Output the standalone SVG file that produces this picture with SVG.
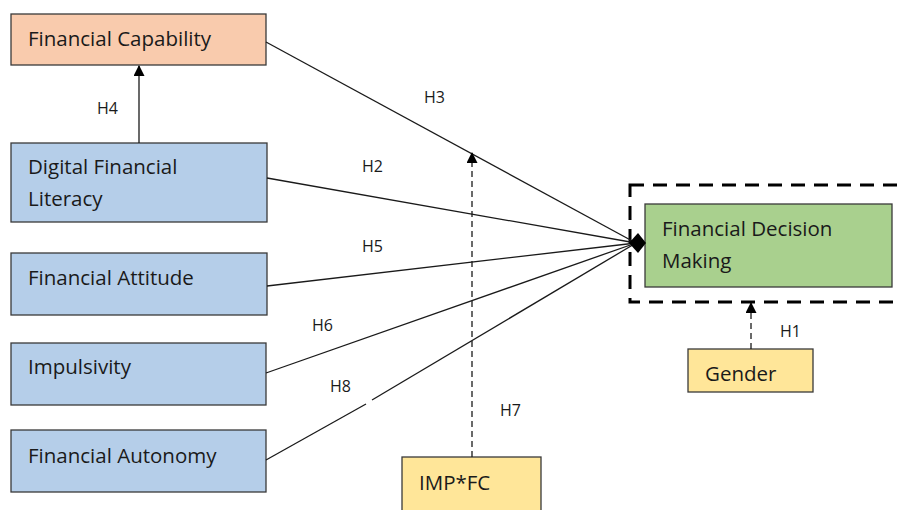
<svg xmlns="http://www.w3.org/2000/svg" width="899" height="510" viewBox="0 0 899 510">
<style>
.box{stroke:#3a3a3a;stroke-width:1.3}
.t{font-family:"Open Sans","Liberation Sans",sans-serif;font-size:20.5px;fill:#1a1a1a}
.l{font-family:"Open Sans","Liberation Sans",sans-serif;font-size:16px;fill:#1a1a1a}
.ln{stroke:#1a1a1a;stroke-width:1.3;fill:none}
.dl{stroke:#1a1a1a;stroke-width:1.3;fill:none;stroke-dasharray:6,4}
</style>
<defs>
<marker id="ah" viewBox="0 0 10 10" refX="9" refY="5" markerWidth="12" markerHeight="11" markerUnits="userSpaceOnUse" orient="auto">
<path d="M0,0 L10,5 L0,10 z" fill="#000"/>
</marker>
</defs>
<rect width="899" height="510" fill="#fff"/>
<g id="fc"><rect class="box" x="11" y="14" width="255" height="51" fill="#f9cbad"/><text class="t" x="28" y="46">Financial Capability</text></g>
<g id="dfl"><rect class="box" x="11" y="143" width="256" height="79" fill="#b5cee9"/><text class="t" x="28" y="174">Digital Financial</text><text class="t" x="28" y="206">Literacy</text></g>
<g id="fa"><rect class="box" x="11" y="253" width="256" height="62" fill="#b5cee9"/><text class="t" x="28" y="285">Financial Attitude</text></g>
<g id="imp"><rect class="box" x="11" y="343" width="255" height="62" fill="#b5cee9"/><text class="t" x="28" y="374">Impulsivity</text></g>
<g id="fau"><rect class="box" x="11" y="430" width="255" height="62" fill="#b5cee9"/><text class="t" x="28" y="463">Financial Autonomy</text></g>
<g id="fdm"><rect x="630" y="185" width="280" height="117" fill="none" stroke="#000" stroke-width="3" stroke-dasharray="14,9"/><rect class="box" x="645" y="204" width="247" height="83" fill="#a9d08e"/><text class="t" x="662" y="236">Financial Decision</text><text class="t" x="662" y="268">Making</text></g>
<g id="gender"><rect class="box" x="688" y="349" width="125" height="43" fill="#ffe699"/><text class="t" x="705" y="381">Gender</text></g>
<g id="impfc"><rect class="box" x="402" y="457" width="139" height="60" fill="#ffe699"/><text class="t" x="419" y="490">IMP*FC</text></g>
<g id="connectors">
<line class="ln" x1="139" y1="143" x2="139" y2="66" marker-end="url(#ah)"/>
<line class="ln" x1="266" y1="42" x2="636" y2="243"/>
<line class="ln" x1="267" y1="178" x2="636" y2="243"/>
<line class="ln" x1="267" y1="286" x2="636" y2="243"/>
<line class="ln" x1="266" y1="373" x2="636" y2="243"/>
<line class="ln" x1="266" y1="460" x2="366" y2="404"/>
<line class="ln" x1="372" y1="400" x2="636" y2="243"/>
<path d="M629,243 L638,233 L646,243 L638,253 z" fill="#000"/>
<line class="dl" x1="472" y1="457" x2="472" y2="153" marker-end="url(#ah)"/>
<line class="dl" x1="751" y1="349" x2="751" y2="303" marker-end="url(#ah)"/>
</g>
<g id="labels">
<text class="l" x="97" y="114">H4</text>
<text class="l" x="424" y="103">H3</text>
<text class="l" x="362" y="172">H2</text>
<text class="l" x="362" y="252">H5</text>
<text class="l" x="312" y="331">H6</text>
<text class="l" x="330" y="392">H8</text>
<text class="l" x="500" y="416">H7</text>
<text class="l" x="780" y="337">H1</text>
</g>
</svg>
